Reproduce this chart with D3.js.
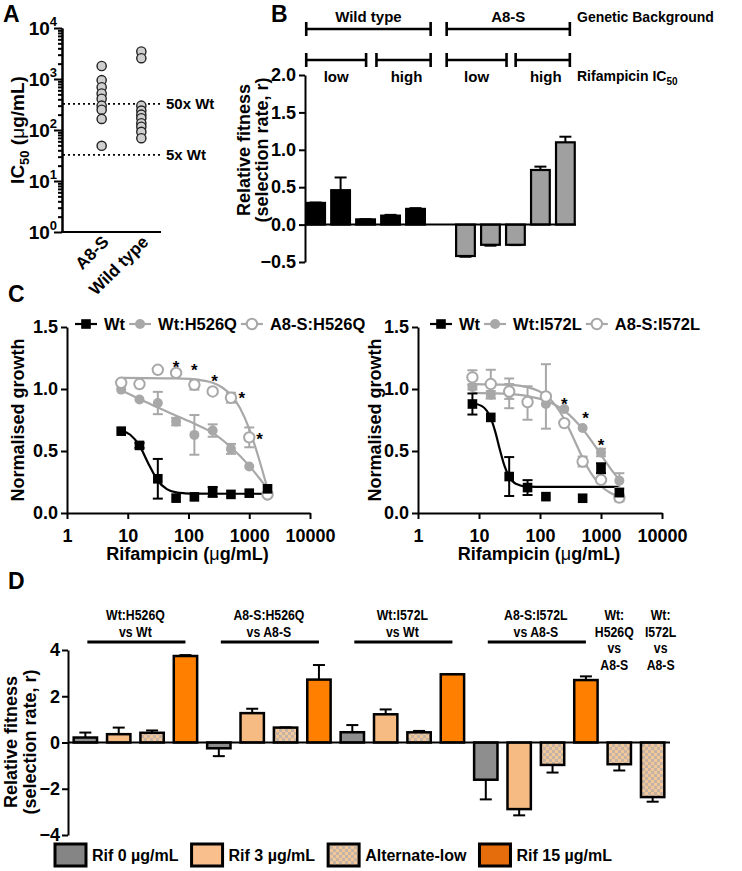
<!DOCTYPE html>
<html><head><meta charset="utf-8">
<script src="https://cdn.jsdelivr.net/npm/d3@7"></script>
<style>body{margin:0;background:#fff}</style>
</head><body>
<script>
// ===================== DATA =====================
// Panel A
const aCategories = ["A8-S", "Wild type"];
const aA8S = [1800, 950, 690, 520, 410, 300, 250, 165, 49];
const aWild = [3470, 2560, 300, 240, 200, 170, 136, 116, 92, 69];
const aYTicks = [1, 10, 100, 1000, 10000];
const aYTickExp = ["0", "1", "2", "3", "4"];
const aRefValues = [325, 32.5];
const aRefLabels = ["50x Wt", "5x Wt"];

// Panel B
const bGroupLabels = ["Wild type", "A8-S"];
const bSubLabels = ["low", "high", "low", "high"];
const bValues = [0.29, 0.46, 0.07, 0.12, 0.21, null, -0.42, -0.27, -0.27, 0.73, 1.10];
const bErrors = [0.005, 0.17, 0.003, 0.01, 0.01, null, 0.01, 0.012, 0.004, 0.045, 0.075];
const bBackground = ["Wt", "Wt", "Wt", "Wt", "Wt", null, "A8", "A8", "A8", "A8", "A8"];
const bTicks = [-0.5, 0.0, 0.5, 1.0, 1.5, 2.0];

// Panel C (shared)
const cConc = [7.8, 15.6, 31.25, 62.5, 125, 250, 500, 1000, 2000];
const cXTicks = [1, 10, 100, 1000, 10000];
const cYTicks = [0, 0.5, 1.0, 1.5];

// Panel C left
const cLeftNames = ["Wt", "Wt:H526Q", "A8-S:H526Q"];
const cL_Wt = [0.66, 0.545, 0.276, 0.12, 0.13, 0.17, 0.15, 0.16, 0.195];
const cL_WtErr = [0.01, 0.02, 0.16, 0.01, 0.01, 0.04, 0.01, 0.01, 0.01];
const cL_Mut = [0.995, 0.915, 0.887, 0.737, 0.63, 0.665, 0.517, 0.375, 0.14];
const cL_MutErr = [0.01, 0.01, 0.09, 0.03, 0.16, 0.05, 0.04, 0.01, 0.01];
const cL_A8 = [1.05, 1.04, 1.155, 1.13, 1.035, 0.98, 0.93, 0.61, 0.15];
const cL_A8Err = [0.02, 0.01, 0.01, 0.01, 0.04, 0.01, 0.04, 0.08, 0.01];
const cL_StarConc = [62.5, 125, 268, 756, 1480];
const cL_StarVal = [1.20, 1.18, 1.086, 0.95, 0.625];
// fitted curves
const cL_WtFitConc = [7.8, 11, 15.6, 22, 31.25, 44, 62.5, 88, 125, 2000];
const cL_WtFitVal = [0.664, 0.631, 0.543, 0.396, 0.26, 0.192, 0.166, 0.159, 0.156, 0.155];
const cL_MutFitConc = [7.8, 15.6, 31.25, 62.5, 125, 250, 500, 1000, 1414, 2000];
const cL_MutFitVal = [0.99, 0.92, 0.85, 0.785, 0.72, 0.646, 0.53, 0.38, 0.29, 0.195];
const cL_A8FitConc = [7.8, 62.5, 125, 250, 354, 500, 707, 1000, 1414, 2000];
const cL_A8FitVal = [1.09, 1.085, 1.078, 1.05, 1.014, 0.951, 0.844, 0.678, 0.452, 0.196];

// Panel C right
const cRightNames = ["Wt", "Wt:I572L", "A8-S:I572L"];
const cR_Wt = [0.879, 0.771, 0.294, 0.205, 0.132, null, 0.119, 0.361, 0.164];
const cR_WtErr = [0.085, 0.01, 0.157, 0.06, 0.01, null, 0.01, 0.04, 0.01];
const cR_Mut = [1.016, 0.954, 0.965, 0.887, 0.879, 0.838, 0.685, 0.488, 0.261];
const cR_MutErr = [0.02, 0.03, 0.12, 0.135, 0.01, 0.01, 0.01, 0.03, 0.06];
const cR_A8 = [1.094, 1.04, 0.98, 0.895, 0.94, 0.725, 0.415, 0.267, 0.124];
const cR_A8Err = [0.057, 0.115, 0.06, 0.02, 0.26, 0.01, 0.04, 0.02, 0.03];
const cR_StarConc = [250, 560, 1000];
const cR_StarVal = [0.906, 0.79, 0.569];
const cR_WtFitConc = [7.8, 11, 15.6, 18.5, 22, 26, 31.25, 40, 62.5, 125, 2000];
const cR_WtFitVal = [0.885, 0.864, 0.765, 0.654, 0.51, 0.384, 0.292, 0.236, 0.213, 0.21, 0.21];
const cR_MutFitConc = [7.8, 15.6, 31.25, 62.5, 125, 250, 500, 707, 1000, 1414, 2000];
const cR_MutFitVal = [0.968, 0.965, 0.96, 0.943, 0.905, 0.825, 0.676, 0.577, 0.469, 0.362, 0.267];
const cR_A8FitConc = [7.8, 31.25, 62.5, 125, 177, 250, 354, 500, 707, 1000, 1414, 2000];
const cR_A8FitVal = [1.04, 1.034, 1.015, 0.948, 0.872, 0.756, 0.603, 0.444, 0.311, 0.2185, 0.1635, 0.1327];

// Panel D
const dGroupLabels = [["Wt:H526Q", "vs Wt"], ["A8-S:H526Q", "vs A8-S"], ["Wt:I572L", "vs Wt"], ["A8-S:I572L", "vs A8-S"], ["Wt:", "H526Q", "vs", "A8-S"], ["Wt:", "I572L", "vs", "A8-S"]];
const dConditions = ["Rif 0 µg/mL", "Rif 3 µg/mL", "Alternate-low", "Rif 15 µg/mL"];
const dBarGroup = [0, 0, 0, 0, 1, 1, 1, 1, 2, 2, 2, 2, 3, 3, 3, 3, 4, 5];
const dBarCond = [0, 1, 2, 3, 0, 1, 2, 3, 0, 1, 2, 3, 0, 1, 2, 3, 2, 2];
const dValues = [0.215, 0.36, 0.42, 3.74, -0.25, 1.27, 0.645, 2.72, 0.444, 1.22, 0.44, 2.95, -1.61, -2.88, -0.97, 2.70, -0.94, -2.36];
const dErrors = [0.215, 0.285, 0.1, 0.04, 0.34, 0.19, 0.01, 0.63, 0.31, 0.21, 0.06, 0.01, 0.85, 0.27, 0.33, 0.16, 0.27, 0.2];
const dTicks = [-4, -2, 0, 2, 4];

// ===================== DRAW =====================
const FONT = '"Liberation Sans", Arial, Helvetica, sans-serif';
const svg = d3.select("body").append("svg").attr("width", 742).attr("height", 871)
  .style("font-family", FONT).style("font-weight", "bold");
svg.append("rect").attr("width", 742).attr("height", 871).attr("fill", "#fff");

const defs = svg.append("defs");
function checker(id, light, dark) {
  const p = defs.append("pattern").attr("id", id).attr("width", 6).attr("height", 6).attr("patternUnits", "userSpaceOnUse");
  p.append("rect").attr("width", 6).attr("height", 6).attr("fill", light);
  p.append("rect").attr("width", 3).attr("height", 3).attr("fill", dark);
  p.append("rect").attr("x", 3).attr("y", 3).attr("width", 3).attr("height", 3).attr("fill", dark);
}
checker("chk", "#f4c79a", "#c4b4a6");

function styleAxis(g, fs) {
  g.attr("font-family", FONT).attr("font-weight", "bold").attr("font-size", fs || 18);
  g.select(".domain").attr("stroke", "#000").attr("stroke-width", 2);
  g.selectAll(".tick line").attr("stroke", "#000").attr("stroke-width", 2);
  g.selectAll(".tick text").attr("fill", "#000");
}
function label(x, y, s, fs, anchor, rot) {
  const t = svg.append("text").attr("x", x).attr("y", y).attr("font-size", fs)
    .attr("text-anchor", anchor || "start").attr("fill", "#000").text(s);
  if (rot) t.attr("transform", `rotate(${rot},${x},${y})`);
  return t;
}

// ---------- Panel letters ----------
label(3, 22, "A", 23);
label(271, 22, "B", 23);
label(8, 302, "C", 23);
label(8, 589, "D", 23);

// ---------- Panel A ----------
{
  const y = d3.scaleLog().domain([1, 1e4]).range([232, 28]);
  const x = d3.scalePoint().domain(aCategories).range([62, 181]).padding(1);
  const minor = [];
  aYTicks.slice(0, -1).forEach(t => { for (let m = 2; m <= 9; m++) minor.push(t * m); });
  svg.append("g").attr("transform", "translate(62,0)")
    .call(d3.axisLeft(y).tickValues(minor).tickSize(4).tickSizeOuter(0).tickFormat(""))
    .call(styleAxis);
  svg.append("g").attr("transform", "translate(62,0)")
    .call(d3.axisLeft(y).tickValues(aYTicks).tickSize(8).tickSizeOuter(0).tickFormat(""))
    .call(styleAxis);
  aYTicks.forEach((t, i) => {
    const tx = svg.append("text").attr("x", 57).attr("y", y(t) + 7).attr("text-anchor", "end").attr("font-size", 19);
    tx.append("tspan").text("10");
    tx.append("tspan").attr("dy", -9).attr("font-size", 13).text(aYTickExp[i]);
  });
  svg.append("line").attr("x1", 61).attr("x2", 161).attr("y1", y(1)).attr("y2", y(1)).attr("stroke", "#000").attr("stroke-width", 2);
  const yl = svg.append("text").attr("transform", "translate(24,130) rotate(-90)").attr("text-anchor", "middle").attr("font-size", 19);
  yl.append("tspan").text("IC");
  yl.append("tspan").attr("font-size", 13).attr("dy", 5).text("50");
  yl.append("tspan").attr("dy", -5).text(" (");
  yl.append("tspan").attr("font-weight", "normal").text("μ");
  yl.append("tspan").text("g/mL)");
  aCategories.forEach(c => {
    label(x(c) + 8, 243, c, 17, "end", -45);
  });
  aRefValues.forEach((v, i) => {
    svg.append("line").attr("x1", 63).attr("x2", 163).attr("y1", y(v)).attr("y2", y(v))
      .attr("stroke", "#000").attr("stroke-width", 1.6).attr("stroke-dasharray", "2,3");
    label(166, y(v) + 5, aRefLabels[i], 15);
  });
  const pts = [].concat(aA8S.map(v => [aCategories[0], v]), aWild.map(v => [aCategories[1], v]));
  svg.append("g").selectAll("circle").data(pts).join("circle")
    .attr("cx", d => x(d[0])).attr("cy", d => y(d[1])).attr("r", 4.6)
    .attr("fill", "#cfcfcf").attr("stroke", "#222").attr("stroke-width", 1.4);
}

// ---------- Panel B ----------
{
  const y = d3.scaleLinear().domain([-0.5, 2]).range([262, 75]);
  const x = d3.scaleBand().domain(d3.range(bValues.length)).range([305, 576]).paddingInner(0.25).paddingOuter(0.05);
  const slot = d3.scaleLinear().domain([0, bValues.length]).range([305, 576]);
  svg.append("g").attr("transform", "translate(305,0)")
    .call(d3.axisLeft(y).tickValues(bTicks).tickSize(6).tickSizeOuter(0).tickFormat(d3.format(".1f")))
    .call(styleAxis);
  const bars = bValues.map((v, i) => ({ v, e: bErrors[i], i, bg: bBackground[i] })).filter(d => d.v !== null);
  const g = svg.append("g");
  g.selectAll("rect").data(bars).join("rect")
    .attr("x", d => x(d.i)).attr("width", x.bandwidth())
    .attr("y", d => Math.min(y(d.v), y(0))).attr("height", d => Math.abs(y(d.v) - y(0)))
    .attr("fill", d => d.bg === "Wt" ? "#000" : "#a0a0a0").attr("stroke", "#000").attr("stroke-width", 2.2);
  bars.forEach(d => {
    const cx = x(d.i) + x.bandwidth() / 2, s = Math.sign(d.v);
    const y1 = y(d.v), y2 = y(d.v + s * d.e);
    g.append("line").attr("x1", cx).attr("x2", cx).attr("y1", y1).attr("y2", y2).attr("stroke", "#000").attr("stroke-width", 2);
    g.append("line").attr("x1", cx - 6).attr("x2", cx + 6).attr("y1", y2).attr("y2", y2).attr("stroke", "#000").attr("stroke-width", 2);
  });
  svg.append("line").attr("x1", 305).attr("x2", 576).attr("y1", y(0)).attr("y2", y(0)).attr("stroke", "#000").attr("stroke-width", 2);
  const yl = svg.append("g").attr("font-size", 18);
  yl.append("text").attr("transform", "translate(250,150) rotate(-90)").attr("text-anchor", "middle").text("Relative fitness");
  yl.append("text").attr("transform", "translate(268,150) rotate(-90)").attr("text-anchor", "middle").text("(selection rate, r)");
  function bracket(a, b, yy) {
    const p = d3.path(); p.moveTo(a, yy - 7); p.lineTo(a, yy + 7); p.moveTo(a, yy); p.lineTo(b, yy); p.moveTo(b, yy - 7); p.lineTo(b, yy + 7);
    svg.append("path").attr("d", p.toString()).attr("stroke", "#000").attr("stroke-width", 2.6).attr("fill", "none");
  }
  const top = [[0.05, 5.1], [5.75, 10.75]];
  const sub = [[0.05, 2.48], [2.9, 5.1], [5.75, 8.18], [8.55, 10.75]];
  top.forEach((r, i) => { bracket(slot(r[0]), slot(r[1]), 29); label((slot(r[0]) + slot(r[1])) / 2, 22, bGroupLabels[i], 15, "middle"); });
  sub.forEach((r, i) => { bracket(slot(r[0]), slot(r[1]), 60); label((slot(r[0]) + slot(r[1])) / 2 + (i % 2 ? 3 : 0), 82, bSubLabels[i], 15, "middle"); });
  label(577, 22, "Genetic Background", 14);
  const ri = svg.append("text").attr("x", 577).attr("y", 81).attr("font-size", 14);
  ri.append("tspan").text("Rifampicin IC");
  ri.append("tspan").attr("font-size", 10).attr("dy", 4).text("50");
}

// ---------- Panel C ----------
function drawC(cfg) {
  const x = d3.scaleLog().domain([1, 10000]).range([cfg.x0, cfg.x1]);
  const y = d3.scaleLinear().domain([0, 1.5]).range([513, 327]);
  svg.append("g").attr("transform", `translate(${cfg.x0},0)`)
    .call(d3.axisLeft(y).tickValues(cYTicks).tickSize(6).tickSizeOuter(0).tickFormat(d3.format(".1f")))
    .call(styleAxis);
  svg.append("g").attr("transform", `translate(0,513)`)
    .call(d3.axisBottom(x).tickValues(cXTicks).tickSize(6).tickSizeOuter(0).tickFormat(d3.format("d")))
    .call(styleAxis).call(g => g.selectAll(".tick text").attr("dy", "1.1em"));
  const xl = svg.append("text").attr("x", (cfg.x0 + cfg.x1) / 2 - 1).attr("y", 560).attr("text-anchor", "middle").attr("font-size", 18);
  xl.append("tspan").text("Rifampicin (");
  xl.append("tspan").attr("font-weight", "normal").text("μ");
  xl.append("tspan").text("g/mL)");
  svg.append("text").attr("transform", `translate(${cfg.yLabX},420) rotate(-90)`).attr("text-anchor", "middle").attr("font-size", 18).text("Normalised growth");

  const gray = "#a8a8a8";
  const line = d3.line().x(d => x(d[0])).y(d => y(d[1])).curve(d3.curveMonotoneX);
  const series = [
    { vals: cfg.mut, err: cfg.mutErr, fc: cfg.mutFitC, fv: cfg.mutFitV, color: gray, mk: "dot" },
    { vals: cfg.a8, err: cfg.a8Err, fc: cfg.a8FitC, fv: cfg.a8FitV, color: gray, mk: "open" },
    { vals: cfg.wt, err: cfg.wtErr, fc: cfg.wtFitC, fv: cfg.wtFitV, color: "#000", mk: "sq" }
  ];
  const g = svg.append("g");
  series.forEach(s => {
    g.append("path").attr("d", line(s.fc.map((c, i) => [c, s.fv[i]]))).attr("fill", "none").attr("stroke", s.color).attr("stroke-width", 2.2);
  });
  function marker(gg, mk, color, px, py) {
    if (mk === "sq") gg.append("rect").attr("x", px - 4.8).attr("y", py - 4.8).attr("width", 9.6).attr("height", 9.6).attr("fill", color);
    else if (mk === "dot") gg.append("circle").attr("cx", px).attr("cy", py).attr("r", 5).attr("fill", color);
    else gg.append("circle").attr("cx", px).attr("cy", py).attr("r", 5.2).attr("fill", "#fff").attr("stroke", color).attr("stroke-width", 2);
  }
  series.forEach(s => {
    s.vals.forEach((v, i) => {
      if (v === null) return;
      const px = x(cConc[i]), e = s.err[i];
      if (e > 0.015) {
        const ya = y(v + e), yb = y(v - e);
        g.append("line").attr("x1", px).attr("x2", px).attr("y1", ya).attr("y2", yb).attr("stroke", s.color).attr("stroke-width", 2);
        [ya, yb].forEach(yy => g.append("line").attr("x1", px - 5).attr("x2", px + 5).attr("y1", yy).attr("y2", yy).attr("stroke", s.color).attr("stroke-width", 2));
      }
      marker(g, s.mk, s.color, px, y(v));
    });
  });
  cfg.starC.forEach((c, i) => {
    g.append("text").attr("x", x(c)).attr("y", y(cfg.starV[i]) + 9).attr("text-anchor", "middle").attr("font-size", 17).text("*");
  });
  let lx = cfg.legX;
  const ly = 324;
  const mks = ["sq", "dot", "open"], cols = ["#000", gray, gray];
  cfg.names.forEach((n, i) => {
    g.append("line").attr("x1", lx).attr("x2", lx + 22).attr("y1", ly).attr("y2", ly).attr("stroke", cols[i]).attr("stroke-width", 2.2);
    marker(g, mks[i], cols[i], lx + 11, ly);
    const t = g.append("text").attr("x", lx + 29).attr("y", ly + 6).attr("font-size", 16.5).text(n);
    lx = lx + 29 + t.node().getComputedTextLength() + 4;
  });
}
drawC({ x0: 67, x1: 310, legX: 75, yLabX: 24, names: cLeftNames,
  wt: cL_Wt, wtErr: cL_WtErr, mut: cL_Mut, mutErr: cL_MutErr, a8: cL_A8, a8Err: cL_A8Err,
  wtFitC: cL_WtFitConc, wtFitV: cL_WtFitVal, mutFitC: cL_MutFitConc, mutFitV: cL_MutFitVal, a8FitC: cL_A8FitConc, a8FitV: cL_A8FitVal,
  starC: cL_StarConc, starV: cL_StarVal });
drawC({ x0: 418, x1: 662, legX: 430, yLabX: 381, names: cRightNames,
  wt: cR_Wt, wtErr: cR_WtErr, mut: cR_Mut, mutErr: cR_MutErr, a8: cR_A8, a8Err: cR_A8Err,
  wtFitC: cR_WtFitConc, wtFitV: cR_WtFitVal, mutFitC: cR_MutFitConc, mutFitV: cR_MutFitVal, a8FitC: cR_A8FitConc, a8FitV: cR_A8FitVal,
  starC: cR_StarConc, starV: cR_StarVal });

// ---------- Panel D ----------
{
  const y = d3.scaleLinear().domain([-4, 4]).range([835, 650]);
  const x = d3.scaleBand().domain(d3.range(dValues.length)).range([68, 670]).paddingInner(0.3).paddingOuter(0.17);
  const fills = ["#8e8e8e", "#f5bb82", "url(#chk)", "#ff8000"];
  const legFills = ["#858585", "#f9c08e", "url(#chk)", "#e56d0c"];
  const labelShift = [0, 0, 0, 0, -5, 8];
  svg.append("g").attr("transform", "translate(68,0)")
    .call(d3.axisLeft(y).tickValues(dTicks).tickSize(6).tickSizeOuter(0).tickFormat(d3.format("d")))
    .call(styleAxis).call(g => g.selectAll(".tick text").attr("x", -8));
  const g = svg.append("g");
  dValues.forEach((v, i) => {
    g.append("rect").attr("x", x(i)).attr("width", x.bandwidth())
      .attr("y", Math.min(y(v), y(0))).attr("height", Math.abs(y(v) - y(0)))
      .attr("fill", fills[dBarCond[i]]).attr("stroke", "#000").attr("stroke-width", 2.5);
    const cx = x(i) + x.bandwidth() / 2, s = Math.sign(v), y1 = y(v), y2 = y(v + s * dErrors[i]);
    g.append("line").attr("x1", cx).attr("x2", cx).attr("y1", y1).attr("y2", y2).attr("stroke", "#000").attr("stroke-width", 2);
    g.append("line").attr("x1", cx - 6).attr("x2", cx + 6).attr("y1", y2).attr("y2", y2).attr("stroke", "#000").attr("stroke-width", 2);
  });
  svg.append("line").attr("x1", 68).attr("x2", 670).attr("y1", y(0)).attr("y2", y(0)).attr("stroke", "#000").attr("stroke-width", 2);
  dGroupLabels.forEach((lines, gi) => {
    const idx = dBarGroup.map((gg, i) => gg === gi ? i : -1).filter(i => i >= 0);
    const c0 = x(idx[0]) + x.bandwidth() / 2, c1 = x(idx[idx.length - 1]) + x.bandwidth() / 2;
    const cx = (c0 + c1) / 2 + labelShift[gi];
    lines.forEach((s, li) => {
      svg.append("text").attr("transform", `translate(${cx},${620 + li * 16.5}) scale(0.82,1)`)
        .attr("text-anchor", "middle").attr("font-size", 15).text(s);
    });
    if (idx.length > 1) svg.append("line").attr("x1", c0 + 2).attr("x2", c1).attr("y1", 642).attr("y2", 642).attr("stroke", "#000").attr("stroke-width", 3);
  });
  svg.append("text").attr("transform", "translate(17,742) rotate(-90)").attr("text-anchor", "middle").attr("font-size", 18).text("Relative fitness");
  svg.append("text").attr("transform", "translate(36,742) rotate(-90)").attr("text-anchor", "middle").attr("font-size", 18).text("(selection rate, r)");
  let lx = 55;
  dConditions.forEach((c, i) => {
    svg.append("rect").attr("x", lx).attr("y", 844).attr("width", 31).attr("height", 22)
      .attr("fill", legFills[i]).attr("stroke", "#000").attr("stroke-width", 3);
    const t = label(lx + 37, 861, c, 16);
    lx = lx + 37 + t.node().getComputedTextLength() + 13;
  });
}
</script>
</body></html>
